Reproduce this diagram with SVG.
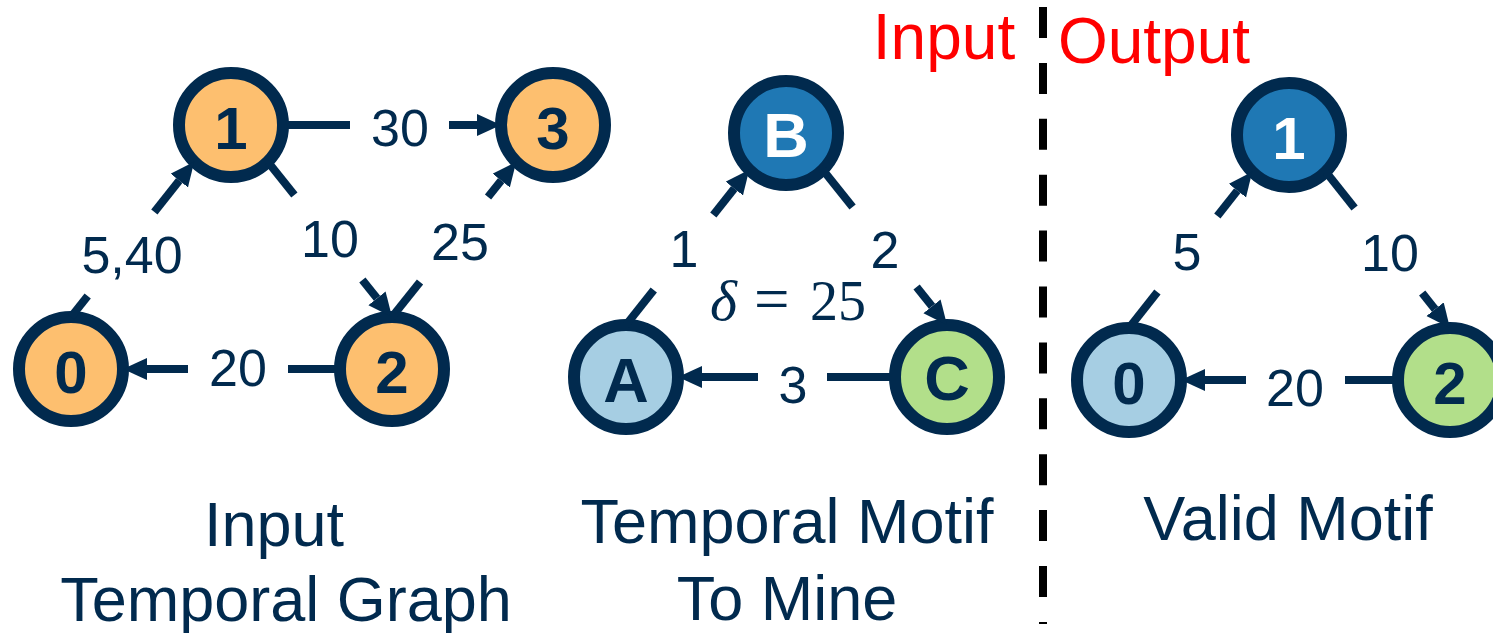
<svg xmlns="http://www.w3.org/2000/svg" width="1493" height="633" viewBox="0 0 1493 633">
<style>
.node circle{stroke:#012A4E;stroke-width:12}
.nl{font-family:"Liberation Sans",Arial,sans-serif;font-weight:bold;font-size:60px;fill:#012A4E;text-anchor:middle}
.nl.w{fill:#ffffff}
.nl.big{font-size:63px}
.e{stroke:#012A4E;stroke-width:8;fill:none}
.a{marker-end:url(#arr)}
.el{font-family:"Liberation Sans",Arial,sans-serif;font-size:52px;fill:#012A4E;text-anchor:middle}
.cap{font-family:"Liberation Sans",Arial,sans-serif;font-size:63px;fill:#012A4E;text-anchor:middle}
.red{font-family:"Liberation Sans",Arial,sans-serif;font-size:64px;fill:#FF0000;text-anchor:middle}
.math{font-family:"Liberation Serif","Times New Roman",serif;font-size:55px;fill:#012A4E}
</style>
<defs>
<marker id="arr" markerUnits="userSpaceOnUse" markerWidth="26" markerHeight="24" refX="0" refY="11" orient="auto">
<path d="M0,0 L24,11 L0,22 Z" fill="#012A4E"/>
</marker>
</defs>
<rect width="1493" height="633" fill="#ffffff"/>

<!-- divider -->
<line id="divider" x1="1043" y1="7" x2="1043" y2="624" stroke="#000000" stroke-width="8" stroke-dasharray="31 24.9"/>
<text class="red" x="944" y="59">Input</text>
<text class="red" x="1154" y="63">Output</text>

<!-- Left graph nodes -->
<g id="g1-n1" class="node"><circle cx="231" cy="125" r="52" fill="#FDBF6F"/><text class="nl" x="231" y="149">1</text></g>
<g id="g1-n3" class="node"><circle cx="553" cy="125" r="52" fill="#FDBF6F"/><text class="nl" x="553" y="149">3</text></g>
<g id="g1-n0" class="node"><circle cx="71" cy="369" r="52" fill="#FDBF6F"/><text class="nl" x="71" y="393">0</text></g>
<g id="g1-n2" class="node"><circle cx="392" cy="369" r="52" fill="#FDBF6F"/><text class="nl" x="392" y="393">2</text></g>

<!-- Middle graph nodes -->
<g id="g2-B" class="node"><circle cx="786" cy="133" r="52" fill="#1F78B4"/><text class="nl w big" x="786" y="157">B</text></g>
<g id="g2-A" class="node"><circle cx="626" cy="377" r="52" fill="#A6CEE3"/><text class="nl big" x="626" y="402">A</text></g>
<g id="g2-C" class="node"><circle cx="947" cy="377" r="52" fill="#B2DF8A"/><text class="nl big" x="947" y="400">C</text></g>

<!-- Right graph nodes -->
<g id="g3-n1" class="node"><circle cx="1289" cy="135" r="52" fill="#1F78B4"/><text class="nl w" x="1289" y="159">1</text></g>
<g id="g3-n0" class="node"><circle cx="1129" cy="380" r="52" fill="#A6CEE3"/><text class="nl" x="1129" y="404">0</text></g>
<g id="g3-n2" class="node"><circle cx="1450" cy="380" r="52" fill="#B2DF8A"/><text class="nl" x="1450" y="404">2</text></g>

<!-- Connectors -->
<g id="connectors">
  <!-- left graph -->
  <line class="e" x1="283" y1="125" x2="350" y2="125"/>
  <line class="e a" x1="449" y1="125" x2="477" y2="125"/>
  <line class="e" x1="340" y1="369" x2="288" y2="369"/>
  <line class="e a" x1="188" y1="369" x2="147" y2="369"/>
  <line class="e" x1="71" y1="317" x2="87.7" y2="296"/>
  <line class="e a" x1="154.35" y1="212" x2="179.31" y2="180.57"/>
  <line class="e" x1="267.77" y1="161.77" x2="294.37" y2="195"/>
  <line class="e a" x1="362.39" y1="280" x2="377" y2="298.26"/>
  <line class="e" x1="392" y1="317" x2="420" y2="282"/>
  <line class="e a" x1="488.04" y1="197" x2="501.23" y2="180.51"/>
  <!-- middle graph -->
  <line class="e" x1="626" y1="325" x2="653.78" y2="290"/>
  <line class="e a" x1="713.32" y1="215" x2="734.31" y2="188.57"/>
  <line class="e" x1="822.77" y1="169.77" x2="852.57" y2="207"/>
  <line class="e a" x1="916.59" y1="287" x2="932" y2="306.26"/>
  <line class="e" x1="895" y1="377" x2="827" y2="377"/>
  <line class="e a" x1="758" y1="377" x2="702" y2="377"/>
  <!-- right graph -->
  <line class="e" x1="1129" y1="328" x2="1157.4" y2="292"/>
  <line class="e a" x1="1217.35" y1="216" x2="1237.37" y2="190.61"/>
  <line class="e" x1="1325.77" y1="171.77" x2="1354.58" y2="208"/>
  <line class="e a" x1="1422.17" y1="293" x2="1435.06" y2="309.22"/>
  <line class="e" x1="1398" y1="380" x2="1345" y2="380"/>
  <line class="e a" x1="1246" y1="380" x2="1205" y2="380"/>
</g>

<!-- Edge labels -->
<g id="edge-labels">
  <text class="el" x="400" y="146">30</text>
  <text class="el" x="238" y="386">20</text>
  <text class="el" x="132" y="273">5,40</text>
  <text class="el" x="330" y="257">10</text>
  <text class="el" x="460" y="260">25</text>
  <text class="el" x="684" y="267">1</text>
  <text class="el" x="885" y="268">2</text>
  <text class="el" x="793" y="403">3</text>
  <text class="el" x="1187" y="270">5</text>
  <text class="el" x="1390" y="271">10</text>
  <text class="el" x="1295" y="406">20</text>
  <text class="math" y="320"><tspan x="710" font-style="italic" font-size="58">δ</tspan><tspan x="754" font-size="63">=</tspan><tspan x="810" font-size="56">25</tspan></text>
</g>

<!-- Captions -->
<g id="captions">
  <text class="cap" x="274" y="546">Input</text>
  <text class="cap" x="286" y="621">Temporal Graph</text>
  <text class="cap" x="787" y="543">Temporal Motif</text>
  <text class="cap" x="787" y="620">To Mine</text>
  <text class="cap" x="1288" y="540">Valid Motif</text>
</g>
</svg>
